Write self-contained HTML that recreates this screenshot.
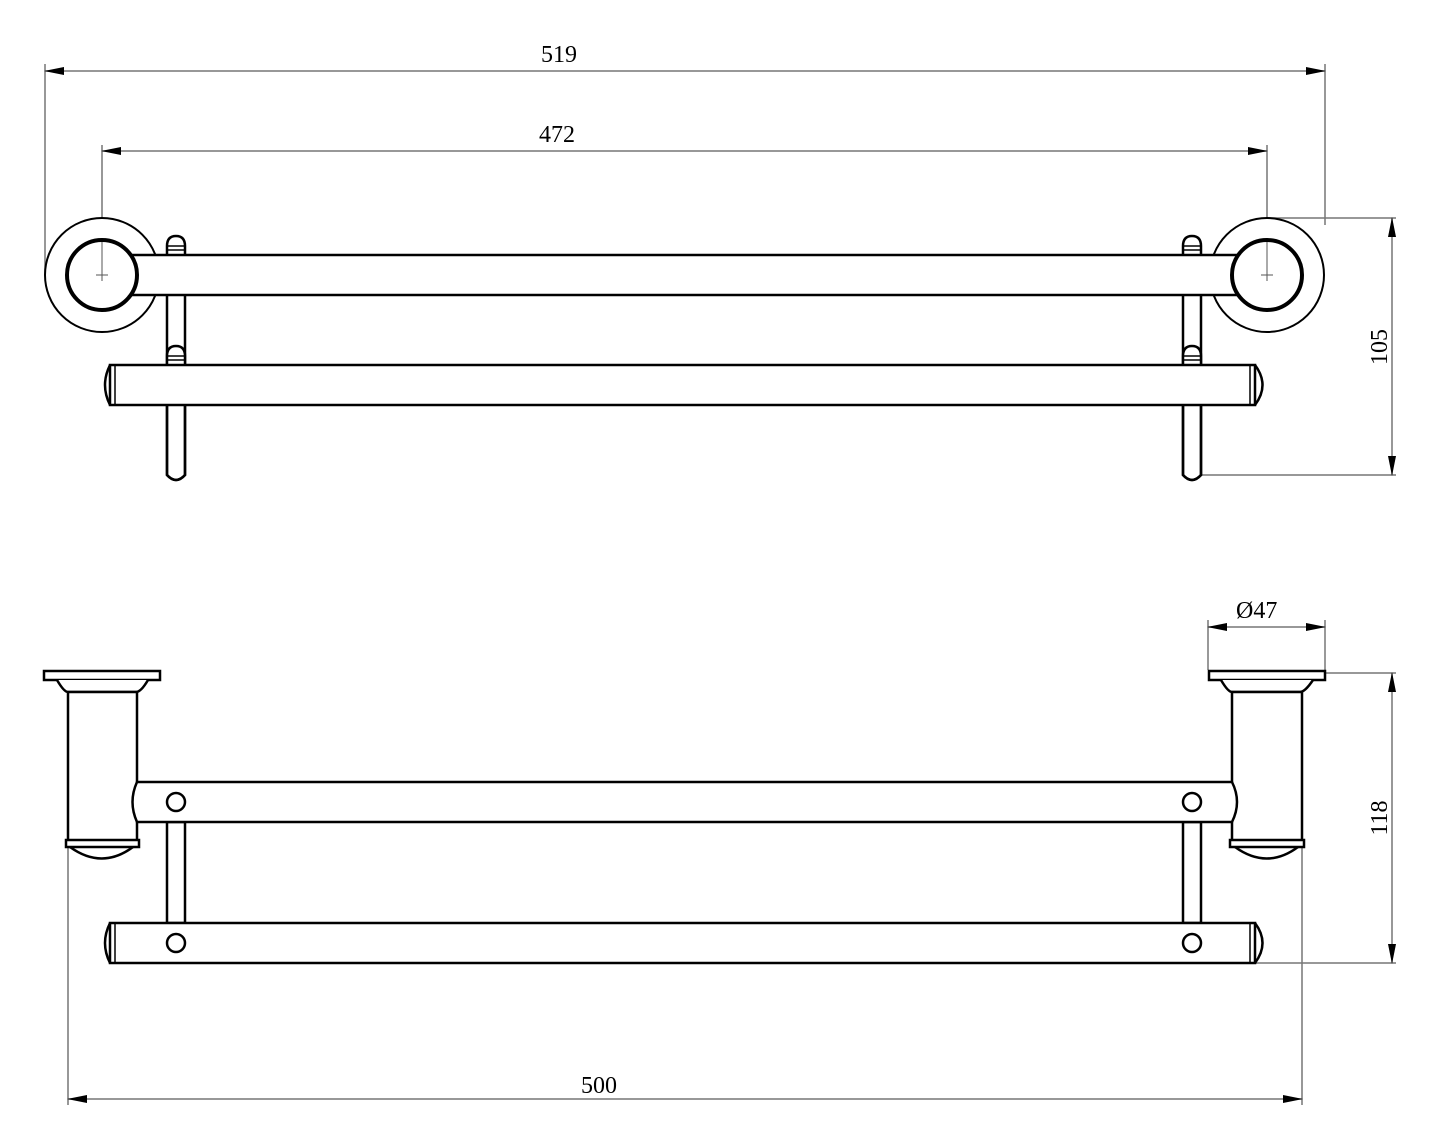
<!DOCTYPE html>
<html><head><meta charset="utf-8"><style>
html,body{margin:0;padding:0;background:#fff;}
svg{display:block;}
text{font-family:"Liberation Serif",serif;font-size:24px;fill:#000;}
</style></head><body>
<svg width="1440" height="1147" viewBox="0 0 1440 1147" xmlns="http://www.w3.org/2000/svg">
<defs>
<marker id="a" markerWidth="20" markerHeight="8" refX="19" refY="4" orient="auto" markerUnits="userSpaceOnUse"><path d="M0,0 L20,4 L0,8 Z" fill="#000"/></marker>
<marker id="b" markerWidth="20" markerHeight="8" refX="1" refY="4" orient="auto" markerUnits="userSpaceOnUse"><path d="M20,0 L0,4 L20,8 Z" fill="#000"/></marker>
</defs>
<g stroke="#777" stroke-width="1.5" fill="none">
<line x1="45" y1="64" x2="45" y2="275"/>
<line x1="1325" y1="64" x2="1325" y2="225"/>
<line x1="45" y1="71" x2="1325" y2="71" marker-start="url(#b)" marker-end="url(#a)"/>
<line x1="102" y1="145" x2="102" y2="275"/>
<line x1="1267" y1="145" x2="1267" y2="275"/>
<line x1="102" y1="151" x2="1267" y2="151" marker-start="url(#b)" marker-end="url(#a)"/>
<line x1="1267" y1="218" x2="1396" y2="218"/>
<line x1="1192" y1="475" x2="1396" y2="475"/>
<line x1="1392" y1="218" x2="1392" y2="475" marker-start="url(#b)" marker-end="url(#a)"/>
<line x1="1208" y1="620" x2="1208" y2="670"/>
<line x1="1325" y1="620" x2="1325" y2="670"/>
<line x1="1208" y1="627" x2="1325" y2="627" marker-start="url(#b)" marker-end="url(#a)"/>
<line x1="1325" y1="673" x2="1396" y2="673"/>
<line x1="1255" y1="963" x2="1396" y2="963"/>
<line x1="1392" y1="673" x2="1392" y2="963" marker-start="url(#b)" marker-end="url(#a)"/>
<line x1="68" y1="846" x2="68" y2="1105"/>
<line x1="1302" y1="846" x2="1302" y2="1105"/>
<line x1="68" y1="1099" x2="1302" y2="1099" marker-start="url(#b)" marker-end="url(#a)"/>
</g>
<g stroke="#000" stroke-width="2.5" fill="#fff">
<path d="M167,475 L167,246 Q167,236 176,236 Q185,236 185,246 L185,475 Q176,485 167,475 Z"/>
<path d="M1183,475 L1183,246 Q1183,236 1192,236 Q1201,236 1201,246 L1201,475 Q1192,485 1183,475 Z"/>
<line x1="168" y1="246" x2="184" y2="246" stroke-width="1.5"/><line x1="168" y1="250" x2="184" y2="250" stroke-width="1.5"/>
<line x1="1184" y1="246" x2="1200" y2="246" stroke-width="1.5"/><line x1="1184" y1="250" x2="1200" y2="250" stroke-width="1.5"/>
<path d="M167,364 L167,356 Q167,346 176,346 Q185,346 185,356 L185,364"/>
<path d="M1183,364 L1183,356 Q1183,346 1192,346 Q1201,346 1201,356 L1201,364"/>
<line x1="168" y1="356" x2="184" y2="356" stroke-width="1.5"/><line x1="168" y1="360" x2="184" y2="360" stroke-width="1.5"/>
<line x1="1184" y1="356" x2="1200" y2="356" stroke-width="1.5"/><line x1="1184" y1="360" x2="1200" y2="360" stroke-width="1.5"/>
<circle cx="102" cy="275" r="57" stroke-width="2"/>
<circle cx="1267" cy="275" r="57" stroke-width="2"/>
<rect x="130" y="255" width="1110" height="40"/>
<circle cx="102" cy="275" r="35" stroke-width="4"/>
<circle cx="1267" cy="275" r="35" stroke-width="4"/>
<path d="M110,365 Q100,385 110,405"/>
<path d="M1255,365 Q1270,385 1255,405"/>
<rect x="110" y="365" width="1145" height="40"/>
<line x1="115" y1="366" x2="115" y2="404" stroke-width="1.5"/>
<line x1="1250" y1="366" x2="1250" y2="404" stroke-width="1.5"/>
<path d="M167,405 L167,475 Q176,485 185,475 L185,405" fill="none"/>
<path d="M1183,405 L1183,475 Q1192,485 1201,475 L1201,405" fill="none"/>

<rect x="167" y="822" width="18" height="101"/>
<rect x="1183" y="822" width="18" height="101"/>
<rect x="44" y="671" width="116" height="9"/>
<path d="M57,680 Q64,692 68,692 L136,692 Q141,692 148,680"/>
<rect x="68" y="692" width="69" height="150"/>
<path d="M70,847 Q102,870 133,847"/>
<rect x="66" y="840" width="73" height="7"/>
<rect x="1209" y="671" width="116" height="9"/>
<path d="M1221,680 Q1228,692 1232,692 L1300,692 Q1305,692 1313,680"/>
<rect x="1232" y="692" width="70" height="150"/>
<path d="M1235,847 Q1267,870 1298,847"/>
<rect x="1230" y="840" width="74" height="7"/>
<path d="M137,782 L1232,782 Q1242,802 1232,822 L137,822 Q128,802 137,782 Z"/>
<circle cx="176" cy="802" r="9"/>
<circle cx="1192" cy="802" r="9"/>
<path d="M110,923 Q100,943 110,963"/>
<path d="M1255,923 Q1270,943 1255,963"/>
<rect x="110" y="923" width="1145" height="40"/>
<line x1="115" y1="924" x2="115" y2="962" stroke-width="1.5"/>
<line x1="1250" y1="924" x2="1250" y2="962" stroke-width="1.5"/>
<circle cx="176" cy="943" r="9"/>
<circle cx="1192" cy="943" r="9"/>
</g>
<g stroke="#555" stroke-width="1">
<line x1="102" y1="242" x2="102" y2="275"/><line x1="1267" y1="242" x2="1267" y2="275"/>
<line x1="96" y1="275" x2="108" y2="275"/><line x1="102" y1="269" x2="102" y2="281"/>
<line x1="1261" y1="275" x2="1273" y2="275"/><line x1="1267" y1="269" x2="1267" y2="281"/>
</g>
<text x="541" y="62">519</text>
<text x="539" y="142">472</text>
<text x="1236" y="618">Ø47</text>
<text x="581" y="1093">500</text>
<text transform="translate(1387,347) rotate(-90)" text-anchor="middle">105</text>
<text transform="translate(1387,818) rotate(-90)" text-anchor="middle">118</text>
</svg>
</body></html>
